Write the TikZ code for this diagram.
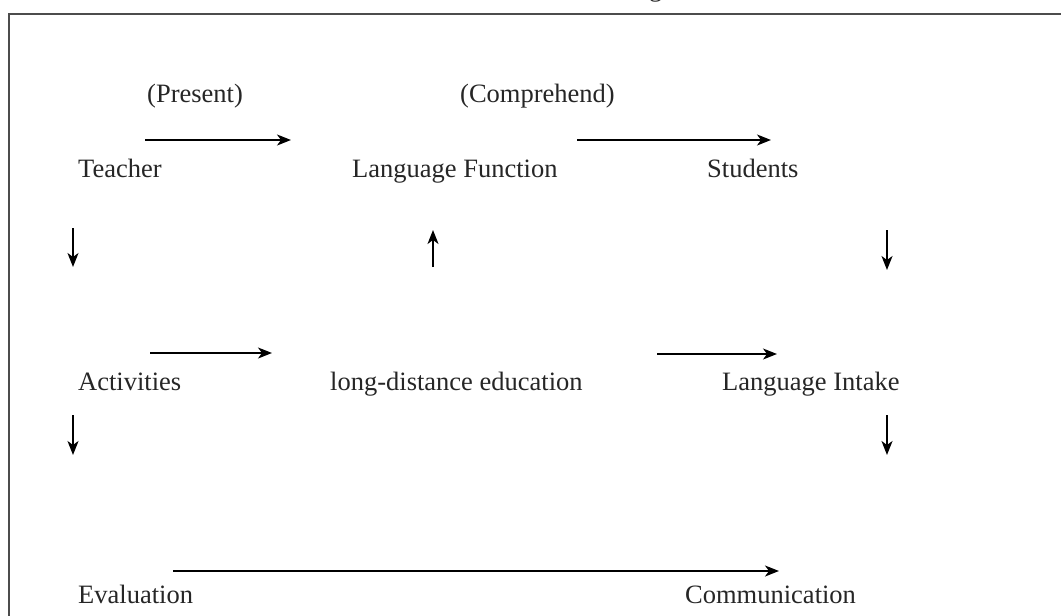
\documentclass[tikz,border=0pt]{standalone}
\usepackage{fontspec}
\setmainfont{Liberation Serif}
\usetikzlibrary{arrows.meta}
\begin{document}
\begin{tikzpicture}[x=1pt,y=-1pt,
  lbl/.style={anchor=base west,inner sep=0pt,font=\fontsize{26.5}{30}\selectfont,text=black!85},
  arr/.style={line width=1.5pt,-{Stealth[length=14pt,width=11pt,inset=4pt]}},
  frame/.style={line width=2pt,draw=black!70}]
\useasboundingbox (0,0) rectangle (1061,616);
\clip (0,0) rectangle (1061,616);
% frame
\coordinate (ftl) at (9,13.5);
\coordinate (ftr) at (1061,13.5);
\coordinate (fbl) at (9,616);
\draw[frame] (ftr) -- (ftl) -- (fbl);
% cut-off caption fragment
\node[lbl] (cap) at (649,-3.5) {g};
% labels
\node[lbl] (present) at (147,102) {(Present)};
\node[lbl] (compr) at (460,102) {(Comprehend)};
\node[lbl] (teacher) at (78,177) {Teacher};
\node[lbl] (langfun) at (352,177) {Language Function};
\node[lbl] (students) at (707,177) {Students};
\node[lbl] (activ) at (78,390) {Activities};
\node[lbl] (lde) at (330,390) {long-distance education};
\node[lbl] (intake) at (722,390) {Language Intake};
\node[lbl] (evalu) at (78,603) {Evaluation};
\node[lbl] (comm) at (685,603) {Communication};
% arrow end points
\coordinate (a1s) at (145,140); \coordinate (a1e) at (291,140);
\coordinate (a2s) at (577,140); \coordinate (a2e) at (771,140);
\coordinate (d1s) at (73,228); \coordinate (d1e) at (73,267);
\coordinate (u1s) at (433,267); \coordinate (u1e) at (433,230);
\coordinate (d2s) at (887,230); \coordinate (d2e) at (887,270);
\coordinate (a3s) at (150,353); \coordinate (a3e) at (272,353);
\coordinate (a4s) at (657,354); \coordinate (a4e) at (777,354);
\coordinate (d3s) at (73,415); \coordinate (d3e) at (73,455);
\coordinate (d4s) at (887,415); \coordinate (d4e) at (887,455);
\coordinate (a5s) at (173,571); \coordinate (a5e) at (779,571);
\foreach \s/\e in {a1s/a1e,a2s/a2e,d1s/d1e,u1s/u1e,d2s/d2e,a3s/a3e,a4s/a4e,d3s/d3e,d4s/d4e,a5s/a5e}
  \draw[arr] (\s) -- (\e);
\end{tikzpicture}
\end{document}
